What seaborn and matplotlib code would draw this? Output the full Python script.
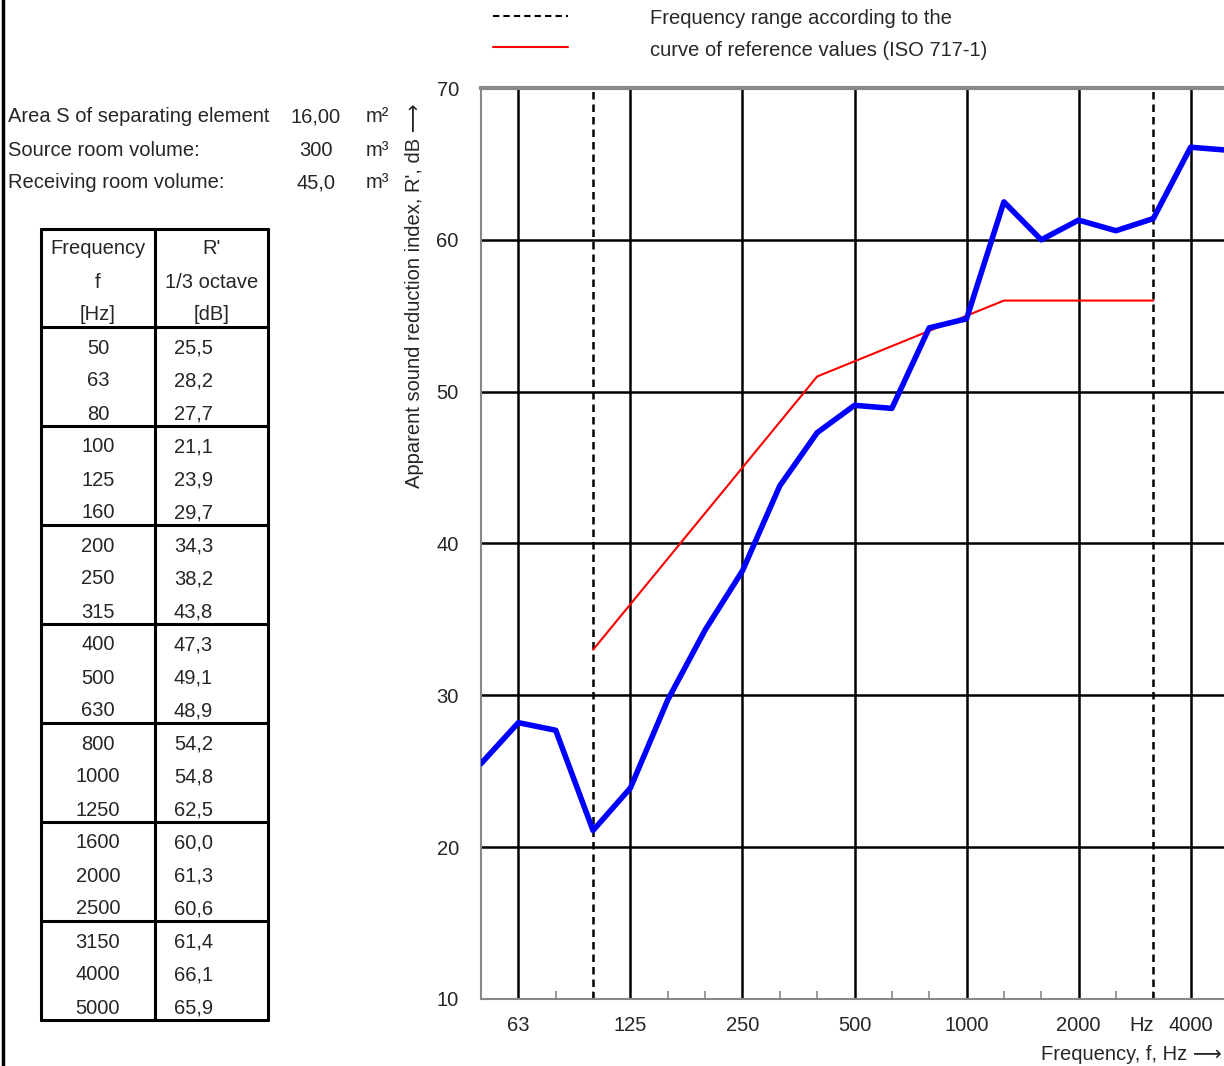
import matplotlib
matplotlib.use("Agg")
import matplotlib.pyplot as plt
import seaborn as sns
import pandas as pd
from matplotlib.lines import Line2D

sns.set_theme(style="white")
plt.rcParams['font.family'] = ['Liberation Sans', 'DejaVu Sans']

# ---- data ----
bands = ["50", "63", "80", "100", "125", "160", "200", "250", "315", "400", "500",
         "630", "800", "1000", "1250", "1600", "2000", "2500", "3150", "4000", "5000"]
r_values = [25.5, 28.2, 27.7, 21.1, 23.9, 29.7, 34.3, 38.2, 43.8, 47.3, 49.1,
            48.9, 54.2, 54.8, 62.5, 60.0, 61.3, 60.6, 61.4, 66.1, 65.9]
r_labels = ["25,5", "28,2", "27,7", "21,1", "23,9", "29,7", "34,3", "38,2", "43,8", "47,3", "49,1",
            "48,9", "54,2", "54,8", "62,5", "60,0", "61,3", "60,6", "61,4", "66,1", "65,9"]
ref_bands = ["100", "125", "160", "200", "250", "315", "400", "500",
             "630", "800", "1000", "1250", "1600", "2000", "2500", "3150"]
ref_values = [33, 36, 39, 42, 45, 48, 51, 52, 53, 54, 55, 56, 56, 56, 56, 56]
octave_labels = ["63", "125", "250", "500", "1000", "2000", "4000"]
range_limits = ["100", "3150"]
y_ticks = [10, 20, 30, 40, 50, 60, 70]
info_rows = [("Area S of separating element", "16,00", "m²"),
             ("Source room volume:", "300", "m³"),
             ("Receiving room volume:", "45,0", "m³")]

W, H = 1224, 1066
fig = plt.figure(figsize=(W / 100, H / 100), dpi=100)
FS = 14.5

idx = {b: i for i, b in enumerate(bands)}
df = pd.DataFrame({"x": range(len(bands)), "R": r_values})
dref = pd.DataFrame({"x": [idx[b] for b in ref_bands], "R": ref_values})

# ---- main axes (extends slightly past right edge, as in reference) ----
L, R_, T, B = 481, 1228, 88, 999
ax = fig.add_axes([L / W, (H - B) / H, (R_ - L) / W, (B - T) / H])
ax.set_xlim(0, 20)
ax.set_ylim(10, 70)

for y in y_ticks[1:-1]:
    ax.axhline(y, color="black", lw=1.8, zorder=1)
for b in octave_labels:
    ax.axvline(idx[b], color="black", lw=1.8, zorder=1)
for b in range_limits:
    ax.axvline(idx[b], color="black", lw=1.8, ls=(0, (3, 2)), zorder=1)

sns.lineplot(data=dref, x="x", y="R", color="red", lw=1.5, ax=ax, zorder=3)
sns.lineplot(data=df, x="x", y="R", color="#0000ff", lw=4.0, ax=ax, zorder=4)

ax.set_xlabel("")
ax.set_ylabel("")
ax.set_yticks(y_ticks)
ax.set_yticklabels([str(v) for v in y_ticks], fontsize=FS)
maj = [idx[b] for b in octave_labels]
ax.set_xticks(maj)
ax.set_xticklabels(octave_labels, fontsize=FS)
ax.set_xticks([i for i in range(21) if i not in maj], minor=True)
ax.tick_params(axis="x", which="major", length=0, pad=12)
ax.tick_params(axis="x", which="minor", bottom=True, length=6, direction="in",
               color="#888888", width=1.2)
ax.tick_params(axis="y", length=0, pad=16)
for s in ["left", "bottom"]:
    ax.spines[s].set_color("#888888")
    ax.spines[s].set_linewidth(1.5)
ax.spines["top"].set_color("#888888")
ax.spines["top"].set_linewidth(3)
ax.spines["right"].set_visible(False)

# "Hz" label between 2000 and 4000
ax.text(idx["3150"] - 0.3, -0.0185, "Hz", transform=ax.get_xaxis_transform(),
        ha="center", va="top", fontsize=FS)

# ---- overlay axes in pixel coordinates for annotations/table ----
ov = fig.add_axes([0, 0, 1, 1], zorder=-1)
ov.set_xlim(0, W)
ov.set_ylim(H, 0)
ov.axis("off")

ov.add_line(Line2D([3, 3], [0, H], color="black", lw=2.5))

ov.text(415, 488, "Apparent sound reduction index, R', dB ⟶", rotation=90,
        ha="center", va="bottom", fontsize=FS)
ov.text(1222, 1055, "Frequency, f, Hz ⟶", ha="right", va="center", fontsize=FS)

# legend
ov.add_line(Line2D([493, 568], [16, 16], color="black", lw=1.5, ls=(0, (3, 2))))
ov.add_line(Line2D([493, 568], [47, 47], color="red", lw=1.5))
ov.text(650, 18, "Frequency range according to the", ha="left", va="center", fontsize=FS)
ov.text(650, 51, "curve of reference values (ISO 717-1)", ha="left", va="center", fontsize=FS)

# info rows
for k, (lab, val, unit) in enumerate(info_rows):
    yy = 117 + k * 33
    ov.text(8, yy, lab, ha="left", va="center", fontsize=FS)
    ov.text(316, yy, val, ha="center", va="center", fontsize=FS)
    ov.text(366, yy, unit, ha="left", va="center", fontsize=FS)

# table
x0, x1, x2 = 41, 155, 268
top, hdr_bot, rh = 229, 327, 33
bot = hdr_bot + rh * len(bands)
lw = 2.2
for xx in (x0, x1, x2):
    ov.add_line(Line2D([xx, xx], [top, bot], color="black", lw=lw))
ov.add_line(Line2D([x0, x2], [top, top], color="black", lw=lw))
for g in range(0, len(bands) + 1, 3):
    yy = hdr_bot + g * rh
    ov.add_line(Line2D([x0, x2], [yy, yy], color="black", lw=lw))
for k, (a, b) in enumerate([("Frequency", "R'"), ("f", "1/3 octave"), ("[Hz]", "[dB]")]):
    yy = 249 + k * rh
    ov.text(98, yy, a, ha="center", va="center", fontsize=FS)
    ov.text(212, yy, b, ha="center", va="center", fontsize=FS)
for k, (b, v) in enumerate(zip(bands, r_labels)):
    yy = 348 + k * rh
    ov.text(98, yy, b, ha="center", va="center", fontsize=FS)
    ov.text(174, yy, v, ha="left", va="center", fontsize=FS)

fig.savefig("out.png", dpi=100)
